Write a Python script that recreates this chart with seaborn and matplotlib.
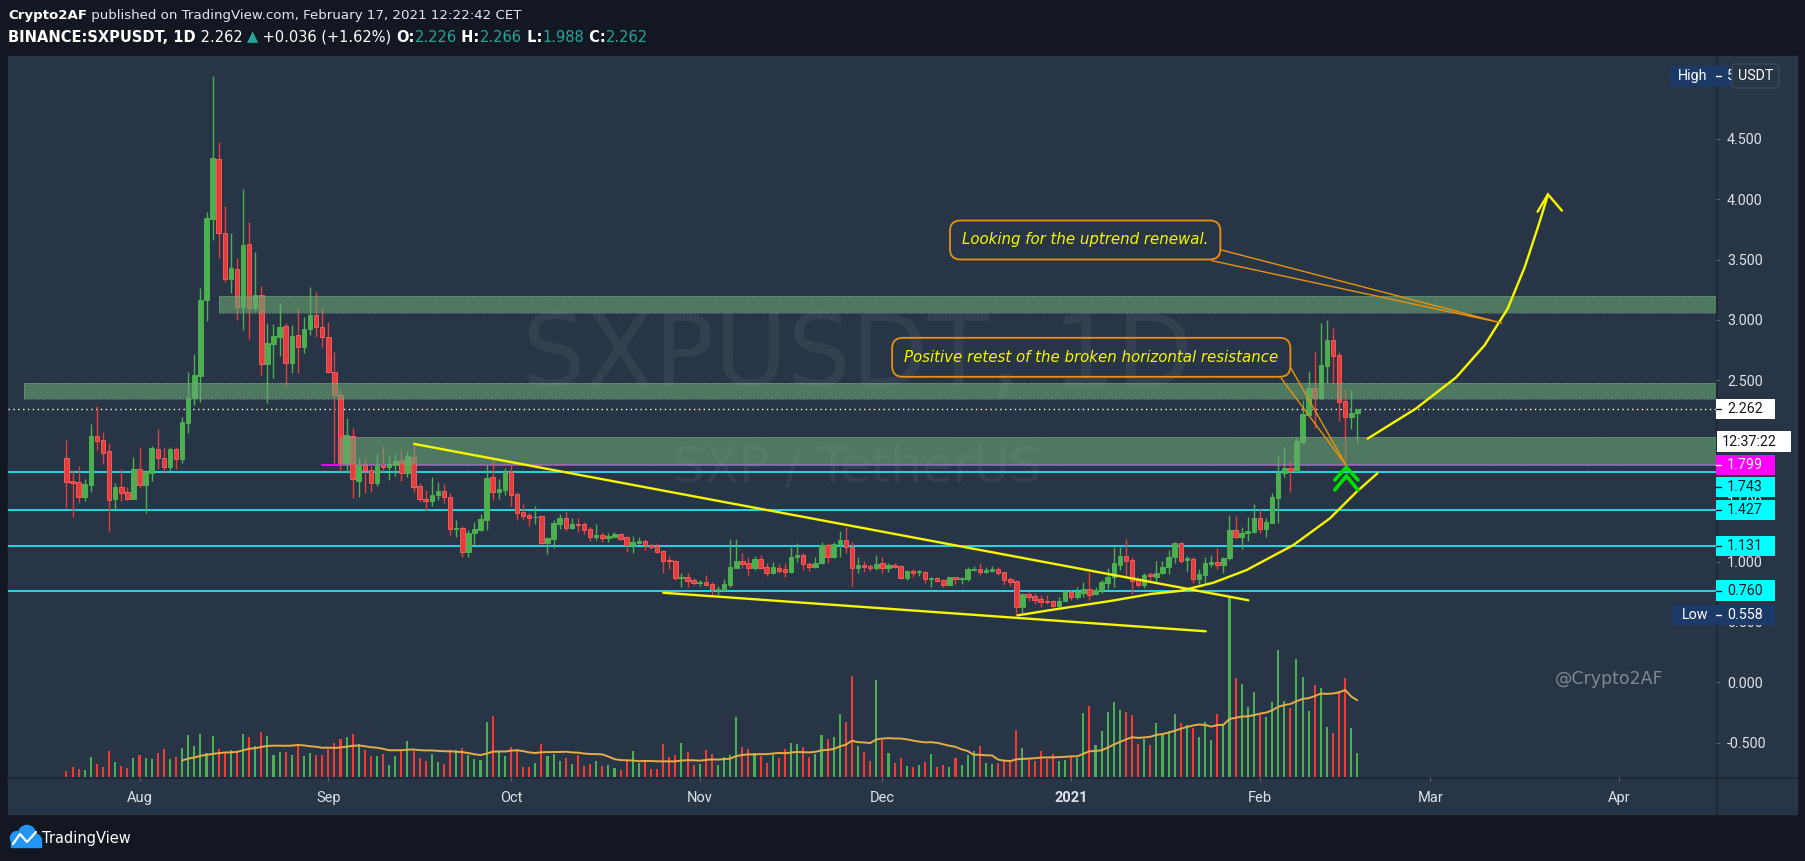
import numpy as np
import pandas as pd
import matplotlib
matplotlib.use('Agg')
import matplotlib.pyplot as plt
import matplotlib.dates as mdates
import matplotlib.transforms as mtransforms
from matplotlib.patches import Rectangle, FancyBboxPatch, Circle
from matplotlib.lines import Line2D
from matplotlib.ticker import FormatStrFormatter
import seaborn as sns

# ---------------- data: BINANCE:SXPUSDT 1D, 2020-07-20 .. 2021-02-17 ----------------
start_date = '2020-07-20'

open_ = [1.854, 1.667, 1.656, 1.537, 1.634, 2.039, 2.006, 1.915, 1.521, 1.614,
         1.573, 1.521, 1.764, 1.634, 1.736, 1.929, 1.854, 1.786, 1.929, 1.846,
         2.150, 2.351, 2.536, 3.165, 3.839, 4.330, 3.723, 3.342, 3.419, 3.110,
         3.629, 3.096, 3.207, 2.633, 2.801, 2.856, 2.950, 2.641, 2.873, 2.773,
         2.922, 3.041, 2.944, 2.856, 2.572, 2.376, 1.813, 2.042, 1.669, 1.799,
         1.758, 1.653, 1.794, 1.780, 1.799, 1.841, 1.730, 1.863, 1.625, 1.515,
         1.504, 1.548, 1.584, 1.532, 1.270, 1.275, 1.082, 1.234, 1.261, 1.344,
         1.698, 1.579, 1.593, 1.745, 1.560, 1.411, 1.386, 1.366, 1.378, 1.154,
         1.187, 1.311, 1.361, 1.281, 1.311, 1.311, 1.270, 1.206, 1.220, 1.192,
         1.206, 1.226, 1.203, 1.137, 1.157, 1.171, 1.135, 1.129, 1.088, 1.013,
         1.005, 0.867, 0.870, 0.848, 0.826, 0.831, 0.815, 0.765, 0.765, 0.806,
         0.947, 1.002, 0.986, 0.950, 1.019, 0.952, 0.903, 0.944, 0.936, 0.917,
         1.035, 1.055, 0.980, 0.952, 0.986, 1.135, 1.035, 1.146, 1.179, 1.118,
         0.950, 0.972, 0.966, 0.950, 0.986, 0.944, 0.975, 0.964, 0.867, 0.922,
         0.914, 0.914, 0.853, 0.864, 0.848, 0.803, 0.870, 0.853, 0.853, 0.930,
         0.939, 0.917, 0.925, 0.939, 0.911, 0.856, 0.837, 0.621, 0.732, 0.715,
         0.690, 0.674, 0.674, 0.635, 0.674, 0.748, 0.710, 0.743, 0.773, 0.732,
         0.765, 0.826, 0.870, 0.975, 1.049, 1.013, 0.848, 0.806, 0.894, 0.875,
         0.903, 0.952, 1.035, 1.151, 1.013, 1.019, 0.853, 0.889, 0.980, 0.997,
         0.972, 1.027, 1.262, 1.206, 1.239, 1.248, 1.358, 1.270, 1.322, 1.529,
         1.731, 1.772, 1.753, 1.993, 2.214, 2.434, 2.357, 2.622, 2.834, 2.710,
         2.329, 2.200, 2.226]

high = [2.006, 1.758, 1.791, 1.680, 2.139, 2.288, 2.073, 1.979, 1.653, 1.764,
        1.620, 1.863, 1.945, 1.758, 1.956, 2.097, 1.945, 1.951, 1.951, 2.194,
        2.569, 2.718, 3.262, 3.896, 5.020, 4.476, 3.943, 3.723, 3.510, 4.081,
        3.811, 3.563, 3.281, 2.972, 2.967, 3.143, 2.972, 2.958, 3.096, 3.027,
        3.270, 3.231, 3.105, 2.986, 2.734, 2.426, 2.186, 2.103, 1.854, 1.854,
        1.791, 1.890, 1.956, 1.874, 1.887, 1.934, 1.918, 1.979, 1.647, 1.592,
        1.697, 1.661, 1.642, 1.565, 1.344, 1.294, 1.261, 1.330, 1.394, 1.800,
        1.863, 1.684, 1.772, 1.800, 1.576, 1.477, 1.400, 1.460, 1.386, 1.206,
        1.344, 1.394, 1.419, 1.361, 1.361, 1.325, 1.284, 1.311, 1.242, 1.234,
        1.242, 1.234, 1.212, 1.212, 1.206, 1.184, 1.157, 1.151, 1.096, 1.046,
        1.013, 0.903, 0.908, 0.861, 0.848, 0.889, 0.834, 0.798, 0.853, 1.187,
        1.187, 1.068, 1.041, 1.046, 1.055, 0.986, 0.999, 0.977, 0.991, 1.118,
        1.151, 1.068, 0.997, 1.035, 1.159, 1.157, 1.165, 1.250, 1.284, 1.162,
        1.035, 1.002, 0.980, 1.052, 1.041, 0.986, 0.986, 0.972, 0.930, 0.936,
        0.930, 0.922, 0.870, 0.875, 0.856, 0.875, 0.875, 0.875, 0.958, 0.966,
        0.986, 0.952, 0.964, 0.952, 0.917, 0.870, 0.848, 0.738, 0.751, 0.743,
        0.723, 0.723, 0.682, 0.710, 0.765, 0.765, 0.792, 0.834, 0.917, 0.792,
        0.848, 0.944, 1.124, 1.124, 1.187, 1.041, 0.875, 0.908, 0.917, 1.005,
        1.008, 1.096, 1.165, 1.162, 1.046, 1.035, 0.941, 1.035, 1.052, 1.113,
        1.041, 1.386, 1.377, 1.289, 1.366, 1.477, 1.433, 1.358, 1.565, 1.874,
        1.951, 1.830, 2.029, 2.338, 2.581, 2.738, 2.978, 3.000, 2.931, 2.738,
        2.426, 2.421, 2.266]

low = [1.441, 1.372, 1.482, 1.504, 1.578, 1.923, 1.808, 1.256, 1.438, 1.504,
       1.510, 1.515, 1.606, 1.399, 1.670, 1.764, 1.736, 1.753, 1.769, 1.813,
       2.062, 2.296, 2.324, 2.994, 3.662, 3.510, 3.317, 3.220, 2.999, 2.917,
       2.845, 3.077, 2.544, 2.310, 2.517, 2.702, 2.453, 2.558, 2.564, 2.729,
       2.878, 2.862, 2.773, 2.558, 1.813, 1.753, 1.731, 1.523, 1.532, 1.565,
       1.579, 1.625, 1.745, 1.675, 1.708, 1.670, 1.703, 1.579, 1.496, 1.421,
       1.460, 1.510, 1.482, 1.220, 1.201, 1.041, 1.041, 1.134, 1.256, 1.262,
       1.510, 1.518, 1.551, 1.460, 1.344, 1.344, 1.295, 1.311, 1.135, 1.066,
       1.115, 1.267, 1.253, 1.270, 1.248, 1.229, 1.173, 1.179, 1.165, 1.165,
       1.201, 1.179, 1.080, 1.074, 1.146, 1.096, 1.102, 1.074, 0.908, 0.936,
       0.848, 0.792, 0.787, 0.806, 0.801, 0.801, 0.723, 0.723, 0.759, 0.792,
       0.944, 0.944, 0.881, 0.930, 0.936, 0.881, 0.897, 0.903, 0.875, 0.908,
       0.999, 0.930, 0.925, 0.944, 0.977, 0.986, 1.027, 1.041, 1.068, 0.801,
       0.908, 0.917, 0.925, 0.930, 0.903, 0.917, 0.944, 0.856, 0.848, 0.875,
       0.883, 0.826, 0.787, 0.828, 0.792, 0.798, 0.814, 0.814, 0.842, 0.925,
       0.889, 0.908, 0.917, 0.889, 0.806, 0.798, 0.558, 0.577, 0.677, 0.649,
       0.627, 0.646, 0.621, 0.627, 0.671, 0.682, 0.688, 0.710, 0.682, 0.726,
       0.737, 0.770, 0.792, 0.930, 0.875, 0.732, 0.792, 0.779, 0.834, 0.826,
       0.897, 0.897, 0.986, 0.986, 0.925, 0.820, 0.815, 0.820, 0.958, 0.936,
       0.903, 1.013, 1.195, 1.102, 1.173, 1.234, 1.234, 1.206, 1.317, 1.317,
       1.698, 1.579, 1.745, 1.974, 2.205, 2.103, 2.343, 2.476, 2.476, 2.167,
       1.799, 2.100, 1.988]

close = [1.656, 1.653, 1.537, 1.642, 2.039, 2.001, 1.901, 1.510, 1.614, 1.570,
         1.521, 1.764, 1.634, 1.745, 1.937, 1.854, 1.786, 1.929, 1.846, 2.153,
         2.351, 2.544, 3.165, 3.841, 4.338, 3.723, 3.342, 3.430, 3.110, 3.621,
         3.096, 3.207, 2.633, 2.807, 2.867, 2.944, 2.641, 2.867, 2.773, 2.922,
         3.041, 2.944, 2.856, 2.572, 2.376, 1.813, 2.048, 1.680, 1.799, 1.758,
         1.653, 1.799, 1.780, 1.808, 1.835, 1.730, 1.874, 1.620, 1.515, 1.504,
         1.551, 1.587, 1.532, 1.267, 1.281, 1.082, 1.239, 1.272, 1.349, 1.692,
         1.579, 1.601, 1.745, 1.551, 1.405, 1.380, 1.364, 1.372, 1.157, 1.195,
         1.317, 1.361, 1.281, 1.311, 1.306, 1.264, 1.206, 1.220, 1.192, 1.212,
         1.228, 1.190, 1.137, 1.162, 1.173, 1.137, 1.124, 1.082, 1.008, 1.002,
         0.867, 0.873, 0.842, 0.826, 0.831, 0.806, 0.770, 0.773, 0.815, 0.952,
         1.002, 0.983, 0.950, 1.021, 0.950, 0.903, 0.952, 0.925, 0.917, 1.038,
         1.055, 0.977, 0.952, 0.988, 1.135, 1.035, 1.146, 1.179, 1.118, 0.950,
         0.972, 0.958, 0.944, 0.980, 0.944, 0.972, 0.958, 0.867, 0.922, 0.908,
         0.922, 0.853, 0.864, 0.842, 0.803, 0.873, 0.853, 0.864, 0.939, 0.941,
         0.917, 0.930, 0.941, 0.908, 0.848, 0.834, 0.621, 0.729, 0.710, 0.682,
         0.666, 0.666, 0.635, 0.677, 0.748, 0.710, 0.748, 0.773, 0.726, 0.765,
         0.831, 0.875, 0.986, 1.049, 1.005, 0.839, 0.806, 0.889, 0.883, 0.908,
         0.958, 1.041, 1.151, 1.008, 1.027, 0.853, 0.897, 0.986, 0.997, 0.972,
         1.033, 1.262, 1.206, 1.234, 1.256, 1.358, 1.270, 1.328, 1.535, 1.733,
         1.772, 1.753, 1.998, 2.222, 2.434, 2.357, 2.627, 2.834, 2.705, 2.318,
         2.200, 2.226, 2.262]

# volume pane (relative units)
volume = [6, 10, 8, 7, 20, 13, 10, 26, 15, 11,
          9, 19, 22, 19, 18, 24, 28, 18, 20, 29,
          42, 31, 43, 24, 41, 28, 24, 27, 25, 43,
          40, 31, 45, 41, 22, 25, 25, 22, 32, 21,
          24, 22, 22, 28, 34, 38, 40, 43, 33, 27,
          21, 21, 23, 12, 21, 26, 36, 26, 19, 16,
          23, 15, 13, 27, 27, 29, 22, 18, 17, 55,
          61, 25, 21, 30, 28, 10, 10, 14, 33, 21,
          23, 16, 19, 13, 22, 11, 13, 16, 11, 12,
          9, 7, 16, 26, 14, 16, 8, 8, 33, 20,
          22, 34, 25, 12,
          13, 27, 23, 12, 20, 22, 60, 30, 28, 24,
          21, 14, 22, 19, 28, 34, 33, 30, 20, 23,
          42, 38, 40, 63, 55, 101, 31, 25, 16, 97,
          37, 24, 14, 19, 11, 10, 12, 15, 23, 10,
          12, 10, 19, 12, 22, 26, 31, 14, 13, 14,
          16, 16, 47, 29, 18, 16, 26, 18, 23, 16,
          17, 20, 19, 64, 71, 32, 46, 65, 75, 67,
          65, 62, 33, 38, 32, 54, 42, 46, 63, 54,
          52, 49, 40, 55, 37, 63, 52, 180, 99, 93,
          70, 85, 62, 60, 75, 127, 76, 69, 118, 100,
          66, 92, 89, 50, 44, 86, 99, 49, 24]

# horizontal levels and zones
level_lines = [1.743, 1.427, 1.131, 0.760]
retest_level = 1.799
last_price = 2.262
price_high = 5.020
price_low = 0.558
zone_start = ['2020-08-14', '2020-07-13', '2020-09-03']
zone_bottom = [3.055, 2.344, 1.806]
zone_top = [3.200, 2.476, 2.029]

# author drawings, x in days after 2020-08-01
upper_tl_days = [45.1, 182.1]
upper_tl_price = [1.974, 0.680]
lower_tl_days = [86.0, 175.1]
lower_tl_price = [0.742, 0.423]
arc_days = [144.2, 150.4, 155.0, 159.7, 166.1, 171.0, 176.4, 181.8, 189.5, 195.5, 199.9, 203.3]
arc_price = [0.555, 0.605, 0.640, 0.676, 0.732, 0.758, 0.826, 0.930, 1.137, 1.358, 1.579, 1.731]
arrow_days = [201.7, 209.6, 216.2, 220.9, 224.7, 227.5, 229.8, 231.3]
arrow_price = [2.018, 2.266, 2.524, 2.791, 3.095, 3.439, 3.791, 4.035]
arrow_head_days = [229.6, 231.3, 233.6]
arrow_head_price = [3.896, 4.040, 3.905]
chevron_days = [196.3, 198.2, 200.1]
chevron_top = [1.675, 1.781, 1.675]
chevron_bottom = [1.593, 1.709, 1.593]
callout_text = ['Looking for the uptrend renewal.',
                'Positive retest of the broken horizontal resistance']
callout_day = [155.3, 156.3]
callout_price = [3.662, 2.691]
callout_tail_days = [[177.7, 223.7, 176.1], [189.1, 198.2, 187.5]]
callout_tail_price = [[3.579, 2.975, 3.491], [2.600, 1.794, 2.517]]

# ---------------- style ----------------
BG = '#131722'
PANE = '#283546'
SEP = '#1d2634'
TXT = '#dfe2ea'
GREEN = '#4caf50'
RED = '#e33d3d'
RED_EDGE = '#f35a5a'
VRED = '#f23b30'
CYAN = '#22e6f2'
YELLOW = '#f7f700'
ORANGE = '#e8920e'
TEAL = '#26a69a'
TAGBLUE = '#1c3a68'

sns.set_style('dark', rc={'axes.facecolor': PANE, 'figure.facecolor': BG,
                          'axes.edgecolor': PANE, 'text.color': TXT,
                          'xtick.color': TXT, 'ytick.color': TXT})
plt.rcParams['font.family'] = ['Roboto', 'DejaVu Sans']

W, H = 1805, 861
fig = plt.figure(figsize=(W / 100, H / 100), dpi=100, facecolor=BG)
pix = mtransforms.IdentityTransform()

# chart panel background and separators (pixel coordinates)
fig.patches.append(Rectangle((8, H - 814), 1789, 758, transform=pix, color=PANE, zorder=-2))
fig.lines.append(Line2D([1716.5, 1716.5], [H - 56, H - 814], transform=pix, color=SEP, lw=1.2, zorder=-1))
fig.lines.append(Line2D([8, 1797], [H - 778, H - 778], transform=pix, color=SEP, lw=1.2, zorder=-1))

ax = fig.add_axes([8 / W, (H - 777) / H, 1708 / W, 721 / H])
axv = ax.twinx()
axv.set_zorder(1)
ax.set_zorder(2)
ax.patch.set_visible(False)
for s in ax.spines.values():
    s.set_visible(False)

df = pd.DataFrame({'date': pd.date_range(start_date, periods=len(close), freq='D'),
                   'open': open_, 'high': high, 'low': low, 'close': close, 'volume': volume})
df['x'] = mdates.date2num(df['date'])
up = (df['close'] >= df['open']).values
anchor = mdates.date2num(pd.Timestamp('2020-08-01'))
day = lambda d: anchor + np.asarray(d, dtype=float)

# volume + moving average
axv.bar(df['x'], df['volume'], width=0.34, color=np.where(up, GREEN, VRED), edgecolor='none', lw=0)
df['vol_ma'] = df['volume'].rolling(20).mean()
sns.lineplot(data=df, x='x', y='vol_ma', ax=axv, color='#e6ac48', lw=1.4)
axv.set_ylim(0, 721)
axv.axis('off')

# candles
ax.vlines(df['x'], df['low'], df['high'], colors=np.where(up, GREEN, RED), lw=1, zorder=2)
body = (df['close'] - df['open']).abs().clip(lower=0.007)
ax.bar(df['x'], body, bottom=df[['open', 'close']].min(axis=1), width=0.74,
       color=np.where(up, GREEN, RED), edgecolor=np.where(up, GREEN, RED_EDGE), lw=0.7, zorder=2.1)

x_left, x_right = anchor - 21.6, anchor + 258.9
ax.set_xlim(x_left, x_right)
ax.set_ylim(-0.783, 5.185)

# levels
for lv in level_lines:
    ax.axhline(lv, color=CYAN, lw=1.3, zorder=1.8)
ax.axhline(last_price, color='white', lw=1, ls=(0, (1, 2.5)), zorder=1.8)
ax.plot([day(29.9), day(33.0)], [retest_level, retest_level], color='#ff00ff', lw=1.3, zorder=1.9)
ax.plot([day(33.0), x_right], [retest_level, retest_level], color='#b45ccc', lw=1.1, zorder=1.9)

# green zones
for zs, zb, zt in zip(zone_start, zone_bottom, zone_top):
    x0 = mdates.date2num(pd.Timestamp(zs))
    ax.add_patch(Rectangle((x0, zb), x_right - x0 + 5, zt - zb, fc='#69a773', alpha=0.6,
                           ec='none', zorder=3))
    ax.add_patch(Rectangle((x0, zb), x_right - x0 + 5, zt - zb, fc='none',
                           ec='#9db3a5', ls=(0, (1.5, 1.5)), lw=0.7, alpha=0.5, zorder=3.1))

# trendlines, arc, arrow, chevrons
ax.plot(day(upper_tl_days), upper_tl_price, color=YELLOW, lw=1.7, zorder=4)
ax.plot(day(lower_tl_days), lower_tl_price, color=YELLOW, lw=1.7, zorder=4)
ax.plot(day(arc_days), arc_price, color=YELLOW, lw=1.7, zorder=4, solid_joinstyle='round')
ax.plot(day(arrow_days), arrow_price, color=YELLOW, lw=1.7, zorder=4, solid_joinstyle='round', clip_on=False)
ax.plot(day(arrow_head_days), arrow_head_price, color=YELLOW, lw=1.7, zorder=4, solid_joinstyle='miter')
ax.plot(day(chevron_days), chevron_top, color='#00e000', lw=2.6, zorder=5, solid_joinstyle='miter')
ax.plot(day(chevron_days), chevron_bottom, color='#00e000', lw=2.6, zorder=5, solid_joinstyle='miter')

# callouts
for txt, cd, cp, td, tp in zip(callout_text, callout_day, callout_price, callout_tail_days, callout_tail_price):
    ax.plot(day(td), tp, color=ORANGE, lw=1.0, zorder=4.9)
    ax.text(day(cd), cp, txt, ha='center', va='center', color=YELLOW, fontsize=10.8,
            family='DejaVu Sans', style='italic', zorder=5,
            bbox=dict(boxstyle='round,pad=0.8,rounding_size=0.7', fc='none', ec=ORANGE, lw=1.3))

# watermark / signature
ax.text(0.4974, 0.58, 'SXPUSDT, 1D', transform=ax.transAxes, ha='center', va='center',
        fontsize=72, color='white', alpha=0.055, family='DejaVu Sans', zorder=0.5)
ax.text(0.4974, 0.4286, 'SXP / TetherUS', transform=ax.transAxes, ha='center', va='center',
        fontsize=36, color='white', alpha=0.055, family='DejaVu Sans', zorder=0.5)
ax.text(0.9374, 0.136, '@Crypto2AF', transform=ax.transAxes, ha='center', va='center',
        fontsize=12.5, color='#7f8795', family='DejaVu Sans', zorder=0.5)

# axes ticks
ax.set_yticks(np.arange(-0.5, 5.01, 0.5))
ax.yaxis.set_major_formatter(FormatStrFormatter('%.3f'))
ax.tick_params(axis='y', left=False, right=True, labelleft=False, labelright=True,
               length=2.9, width=0.8, color='#596273', pad=5, labelsize=10.3, labelcolor=TXT)
month_starts = pd.date_range('2020-08-01', '2021-04-01', freq='MS')
month_labels = ['Aug', 'Sep', 'Oct', 'Nov', 'Dec', '2021', 'Feb', 'Mar', 'Apr']
ax.set_xticks(mdates.date2num(month_starts))
ax.set_xticklabels(month_labels)
ax.tick_params(axis='x', bottom=True, length=2.9, width=0.8, color='#596273', pad=7,
               labelsize=10.5, labelcolor=TXT)
for t in ax.get_xticklabels():
    if t.get_text() == '2021':
        t.set_fontweight('bold')
ax.set_xlabel('')
ax.set_ylabel('')

# price-scale tags
blend = mtransforms.blended_transform_factory(ax.transAxes, ax.transData)
px_ax = lambda X: (X - 8) / 1708
tag_h = 20.5 / 120.8


def price_tag(yc, text, fc, tc, x_end=1775, x_start=1716):
    ax.add_patch(Rectangle((px_ax(x_start), yc - tag_h / 2), px_ax(x_end) - px_ax(x_start), tag_h,
                           transform=blend, fc=fc, ec='none', clip_on=False, zorder=6))
    ax.plot([1.0, px_ax(1721)], [yc, yc], transform=blend, color=tc, lw=1, clip_on=False, zorder=7)
    ax.text(px_ax(1727), yc, text, transform=blend, color=tc, fontsize=10.3,
            va='center', ha='left', zorder=7, clip_on=False)


price_tag(last_price, f'{last_price:.3f}', 'white', '#131722')
ax.add_patch(Rectangle((px_ax(1716.5), last_price - 2 * tag_h - 0.015), px_ax(1790.7) - px_ax(1716.5), tag_h,
                       transform=blend, fc='white', ec='none', clip_on=False, zorder=6))
ax.text(px_ax(1722), last_price - 1.5 * tag_h - 0.015, '12:37:22', transform=blend, color='#131722',
        fontsize=10.3, va='center', ha='left', zorder=7)
price_tag(retest_level, f'{retest_level:.3f}', '#ff00ff', 'white')
tag_pos = [retest_level - tag_h - 0.012, level_lines[1], level_lines[2], level_lines[3]]
for lv, yp in zip(level_lines, tag_pos):
    price_tag(yp, f'{lv:.3f}', '#00ffff', '#131722')
price_tag(price_low, f'{price_low:.3f}', TAGBLUE, 'white', x_start=1672)
ax.text(px_ax(1695), price_low, 'Low', transform=blend, color='white', fontsize=10.3,
        va='center', ha='center', zorder=7)
price_tag(price_high, f'{price_high:.3f}', TAGBLUE, 'white', x_start=1670)
ax.text(px_ax(1693), price_high, 'High', transform=blend, color='white', fontsize=10.3,
        va='center', ha='center', zorder=7)
fig.patches.append(FancyBboxPatch((1732, H - 88), 47, 24, boxstyle='round,pad=0,rounding_size=4',
                                  transform=pix, fc=PANE, ec='#3d4757', lw=1, zorder=5))
fig.text(1755.5 / W, 1 - 76 / H, 'USDT', color='white', fontsize=10.3, ha='center', va='center', zorder=6)


# header
def header_line(segments, y, size):
    hf = dict(fontsize=size, family='DejaVu Sans')
    s, w, c = segments[0]
    t = fig.text(8 / W, y, s, color=c, fontweight=w, va='center', ha='left', **hf)
    for s, w, c in segments[1:]:
        t = ax.annotate(s, xy=(1, 0), xycoords=t, va='bottom', ha='left', color=c,
                        fontweight=w, annotation_clip=False, **hf)


header_line([('Crypto2AF', 'bold', 'white'),
             (' published on TradingView.com, February 17, 2021 12:22:42 CET', 'normal', '#e3e6ee')],
            1 - 15 / H, 9.6)
header_line([('BINANCE:SXPUSDT, 1D', 'bold', 'white'), (' 2.262 ', 'normal', 'white'),
             ('\u25b2', 'normal', TEAL), (' +0.036 (+1.62%) ', 'normal', 'white'),
             ('O:', 'bold', 'white'), ('2.226', 'normal', TEAL),
             (' H:', 'bold', 'white'), ('2.266', 'normal', TEAL),
             (' L:', 'bold', 'white'), ('1.988', 'normal', TEAL),
             (' C:', 'bold', 'white'), ('2.262', 'normal', TEAL)],
            1 - 37 / H, 10.5)

# TradingView logo
for cx, cy, r in [(17, 838, 6.5), (27, 834, 8.5), (35, 840, 6)]:
    fig.patches.append(Circle((cx, H - cy), r, transform=pix, color='#2196f3', zorder=1))
fig.patches.append(Rectangle((11, H - 847), 30, 9, transform=pix, color='#2196f3', zorder=1))
fig.lines.append(Line2D([13, 20, 27, 36], [H - 844, H - 834, H - 842, H - 832], transform=pix,
                        color='white', lw=1.6, zorder=2))
fig.text(42 / W, 1 - 838 / H, 'TradingView', color='white', fontsize=10.5, family='DejaVu Sans',
         ha='left', va='center')

fig.savefig('out.png', dpi=100, facecolor=BG)
